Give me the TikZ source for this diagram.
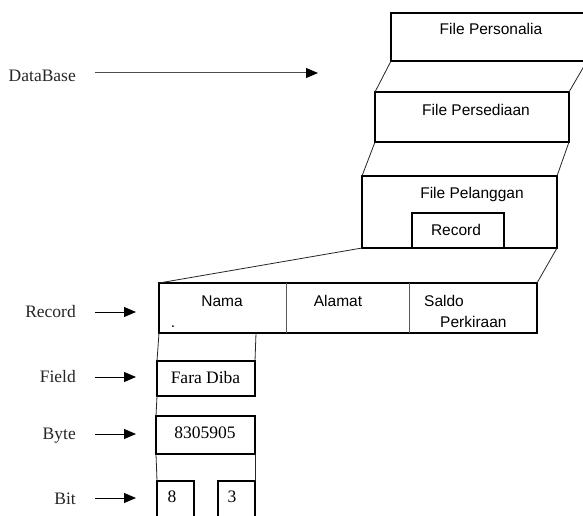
\documentclass[tikz,border=0pt]{standalone}
\usepackage{fontspec}
\setmainfont{Liberation Serif}
\newfontfamily\boxfont{Liberation Sans}
\usetikzlibrary{arrows.meta}
\begin{document}
\begin{tikzpicture}[x=1pt,y=-1pt,
  box/.style={draw,line width=1.9pt,inner sep=0pt,outer sep=0pt,anchor=north west},
  cell/.style={inner sep=0pt,outer sep=0pt,anchor=north west},
  link/.style={line width=0.8pt,draw=black!85},
  divider/.style={line width=0.7pt,draw=black!65},
  lab/.style={font=\fontsize{17.5}{20}\selectfont,anchor=base east,inner sep=0pt,text=black!85},
  val/.style={font=\fontsize{17.5}{20}\selectfont,anchor=base,inner sep=0pt},
  stxt/.style={font=\boxfont\fontsize{15.5}{18}\selectfont,anchor=base,inner sep=0pt},
  pointer/.style={line width=1pt,-{Triangle[length=12pt,width=10pt,color=black]}}]
\useasboundingbox (0,0) rectangle (583,516);
\fill[white] (0,0) rectangle (583,516);
\clip (0,0) rectangle (583,516);

% stacked files of the database
\node[box,minimum width=196pt,minimum height=48pt] (pers)  at (391,13)  {};
\node[box,minimum width=194pt,minimum height=50pt] (persd) at (375,92)  {};
\node[box,minimum width=195pt,minimum height=72pt] (pel)   at (362,176) {};
\node[box,minimum width=92pt,minimum height=35pt]  (recin) at (412,213) {};

\node[stxt] (tpers)  at (491,35)  {File Personalia};
\node[stxt] (tpersd) at (476,115) {File Persediaan};
\node[stxt] (tpel)   at (472,198) {File Pelanggan};
\node[stxt] (trecin) at (456,235) {Record};

% record with its fields
\node[box,minimum width=378pt,minimum height=50pt] (rec) at (159,283) {};
\node[cell,minimum width=127pt,minimum height=50pt] (nama)   at (159,283) {};
\node[cell,minimum width=123pt,minimum height=50pt] (alamat) at (286,283) {};
\node[cell,minimum width=128pt,minimum height=50pt] (saldo)  at (409,283) {};
\draw[divider] (nama.north east) -- (nama.south east);
\draw[divider] (alamat.north east) -- (alamat.south east);

\node[stxt] (tnama)   at (222,306) {Nama};
\node[stxt] (tdot)    at (173,327) {.};
\node[stxt] (talamat) at (338,306) {Alamat};
\node[stxt,anchor=base west] (tsaldo) at (424,306) {Saldo};
\node[stxt,anchor=base west] (tperk)  at (440,327) {Perkiraan};

% field, byte and bits
\node[box,minimum width=98pt,minimum height=35pt] (field) at (157,361) {};
\node[box,minimum width=99pt,minimum height=38pt] (byte)  at (156,416) {};
\node[box,minimum width=37pt,minimum height=50pt] (bitA)  at (157,481) {};
\node[box,minimum width=37pt,minimum height=50pt] (bitB)  at (218,481) {};

\node[val] (tfield) at (205.5,383) {Fara Diba};
\node[val] (tbyte)  at (205,438)   {8305905};
\node[val] (tbitA)  at (172,502)   {8};
\node[val] (tbitB)  at (232,502)   {3};

% zoom lines between the levels
\coordinate (namafoot) at (256,333);
\draw[link] (pers.south west)  -- (persd.north west);
\draw[link] (pers.south east)  -- (persd.north east);
\draw[link] (persd.south west) -- (pel.north west);
\draw[link] (persd.south east) -- (pel.north east);
\draw[link] (pel.south west)   -- (rec.north west);
\draw[link] (pel.south east)   -- (rec.north east);
\draw[link] (nama.south west)  -- (field.north west);
\draw[link] (namafoot)         -- (field.north east);
\draw[link] (field.south west) -- (byte.north west);
\draw[link] (byte.south west)  -- (bitA.north west);
\draw[link] (byte.south east)  -- (bitB.north east);

% level labels with pointers
\node[lab] (ldb)    at (76,82)  {DataBase};
\node[lab] (lrec)   at (76,317) {Record};
\node[lab] (lfield) at (76,382) {Field};
\node[lab] (lbyte)  at (76,439) {Byte};
\node[lab] (lbit)   at (76,504) {Bit};

\coordinate (dbs) at (95,73);   \coordinate (dbe) at (318,73);
\coordinate (rcs) at (95,312);  \coordinate (rce) at (136,312);
\coordinate (fds) at (95,377);  \coordinate (fde) at (136,377);
\coordinate (bys) at (95,434);  \coordinate (bye) at (136,434);
\coordinate (bts) at (95,498);  \coordinate (bte) at (136,498);
\draw[pointer,draw=black!70] (dbs) -- (dbe);
\draw[pointer] (rcs) -- (rce);
\draw[pointer] (fds) -- (fde);
\draw[pointer] (bys) -- (bye);
\draw[pointer] (bts) -- (bte);
\end{tikzpicture}
\end{document}
